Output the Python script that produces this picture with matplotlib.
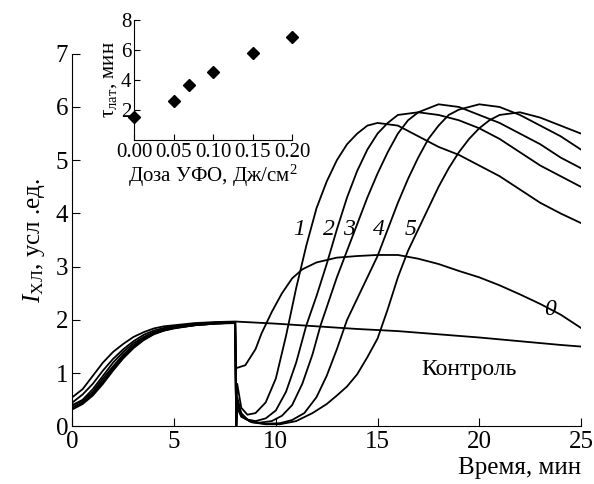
import numpy as np
import matplotlib
matplotlib.use("Agg")
import matplotlib.pyplot as plt

plt.rcParams['font.family'] = ['Liberation Serif', 'DejaVu Serif']
plt.rcParams['mathtext.fontset'] = 'custom'
plt.rcParams['mathtext.rm'] = 'Liberation Serif'
plt.rcParams['mathtext.it'] = 'Liberation Serif:italic'

# начальный участок (0-8 мин), общий для всех кривых
t_early = [0, 0.5, 1, 1.5, 2, 2.5, 3, 3.5, 4, 4.5, 5, 6, 7, 8]
early_control = [0.55, 0.7, 0.95, 1.2, 1.4, 1.55, 1.68, 1.77, 1.84, 1.88, 1.9, 1.94, 1.96, 1.97]
early_0 = [0.45, 0.6, 0.8, 1.05, 1.27, 1.45, 1.6, 1.72, 1.8, 1.85, 1.88, 1.92, 1.95, 1.96]
early_1 = [0.4, 0.5, 0.7, 0.95, 1.2, 1.4, 1.56, 1.68, 1.77, 1.83, 1.87, 1.92, 1.94, 1.95]
early_2 = [0.35, 0.45, 0.62, 0.85, 1.1, 1.33, 1.5, 1.64, 1.74, 1.8, 1.85, 1.9, 1.93, 1.95]
early_3 = [0.4, 0.48, 0.65, 0.9, 1.13, 1.35, 1.52, 1.66, 1.76, 1.82, 1.86, 1.91, 1.94, 1.95]
early_4 = [0.32, 0.42, 0.58, 0.8, 1.05, 1.28, 1.47, 1.62, 1.73, 1.8, 1.84, 1.9, 1.93, 1.94]
early_5 = [0.36, 0.44, 0.6, 0.83, 1.07, 1.3, 1.49, 1.63, 1.74, 1.81, 1.85, 1.9, 1.93, 1.95]

# после добавления (8-25 мин)
t_control = [10, 12, 14, 16, 18, 20, 22, 24, 25]
y_control = [1.93, 1.88, 1.83, 1.79, 1.73, 1.67, 1.6, 1.53, 1.5]

t_0 = [8.05, 8.1, 8.5, 9.0, 9.3, 9.8, 10.3, 10.8, 11.3, 12, 13, 14, 15, 16, 17, 18, 19, 20, 21, 22, 23, 24, 25]
y_0 = [1.1, 1.1, 1.15, 1.45, 1.75, 2.15, 2.5, 2.78, 2.95, 3.08, 3.17, 3.2, 3.22, 3.22, 3.15, 3.05, 2.92, 2.8, 2.65, 2.48, 2.3, 2.1, 1.85]

t_1 = [8.05, 8.1, 8.3, 8.6, 9.0, 9.5, 10.0, 10.5, 11.0, 11.5, 12.0, 12.5, 13.0, 13.5, 14.0, 14.5, 15, 16, 17, 18, 19, 20, 21, 22, 23, 24, 25]
y_1 = [0.0, 0.8, 0.35, 0.22, 0.25, 0.45, 0.9, 1.7, 2.6, 3.4, 4.1, 4.6, 5.0, 5.3, 5.5, 5.65, 5.7, 5.65, 5.45, 5.25, 5.1, 4.9, 4.7, 4.45, 4.2, 4.0, 3.82]

t_2 = [8.05, 8.1, 8.3, 8.6, 9.0, 9.5, 10, 10.5, 11, 11.5, 12, 12.5, 13, 13.5, 14, 14.5, 15, 15.5, 16, 17, 18, 19, 20, 21, 22, 23, 24, 25]
y_2 = [0.0, 0.55, 0.25, 0.13, 0.1, 0.15, 0.3, 0.65, 1.2, 1.9, 2.45, 3.05, 3.7, 4.3, 4.8, 5.2, 5.5, 5.7, 5.85, 5.9, 5.85, 5.75, 5.6, 5.4, 5.15, 4.9, 4.7, 4.5]

t_3 = [8.05, 8.1, 8.3, 8.7, 9.2, 9.8, 10.3, 10.8, 11.3, 11.8, 12.2, 12.6, 13.0, 13.5, 14, 14.5, 15, 15.5, 16, 16.5, 17, 18, 19, 20, 21, 22, 23, 24, 25]
y_3 = [0.0, 0.45, 0.22, 0.1, 0.07, 0.1, 0.2, 0.4, 0.8, 1.35, 1.9, 2.35, 2.8, 3.3, 3.8, 4.3, 4.75, 5.15, 5.5, 5.75, 5.9, 6.05, 6.0, 5.85, 5.7, 5.5, 5.3, 5.05, 4.85]

t_4 = [8.05, 8.1, 8.3, 8.8, 9.5, 10.2, 10.8, 11.4, 12, 12.5, 13, 13.5, 14, 14.5, 15, 15.5, 16, 16.5, 17, 17.5, 18, 18.5, 19, 20, 21, 22, 23, 24, 25]
y_4 = [0.0, 0.4, 0.2, 0.08, 0.05, 0.06, 0.12, 0.25, 0.55, 0.95, 1.45, 2.0, 2.4, 2.8, 3.2, 3.7, 4.2, 4.65, 5.05, 5.4, 5.65, 5.85, 5.95, 6.05, 6.0, 5.85, 5.65, 5.45, 5.2]

t_5 = [8.05, 8.1, 8.3, 8.8, 9.5, 10.2, 11, 11.8, 12.5, 13, 13.5, 14, 14.5, 15, 15.5, 16, 16.5, 17, 17.5, 18, 18.5, 19, 19.5, 20, 20.5, 21, 22, 23, 24, 25]
y_5 = [0.0, 0.35, 0.18, 0.08, 0.04, 0.04, 0.1, 0.25, 0.42, 0.58, 0.75, 0.98, 1.3, 1.65, 2.2, 2.8, 3.3, 3.7, 4.1, 4.5, 4.85, 5.15, 5.4, 5.6, 5.75, 5.85, 5.9, 5.8, 5.65, 5.5]

# вставка: латентный период от дозы УФО
dose = [0.0, 0.05, 0.07, 0.10, 0.15, 0.20]
tau_lat = [1.5, 2.6, 3.65, 4.5, 5.8, 6.85]

curve_labels = ['1', '2', '3', '4', '5']
label_t = [11.15, 12.6, 13.6, 15.05, 16.6]
label_y = 3.69

fig = plt.figure(figsize=(5.94, 4.84), dpi=100)
ax = fig.add_axes([0.122, 0.119, 0.856, 0.770])

ax.plot(t_early + t_control, early_control + y_control, color='black', lw=1.3)
ax.plot(t_early + t_0, early_0 + y_0, color='black', lw=1.3)
for te, ye, tl, yl in [(t_early, early_1, t_1, y_1), (t_early, early_2, t_2, y_2),
                       (t_early, early_3, t_3, y_3), (t_early, early_4, t_4, y_4),
                       (t_early, early_5, t_5, y_5)]:
    ax.plot(te + tl, ye + yl, color='black', lw=1.3)

ax.set_xlim(0, 25)
ax.set_ylim(0, 7)
ax.set_xticks([0, 5, 10, 15, 20, 25])
ax.set_yticks(range(8))
for s in ['top', 'right']:
    ax.spines[s].set_visible(False)
ax.tick_params(direction='in', length=6, labelsize=18, pad=3)
ax.set_xlabel('Время, мин', fontsize=18, loc='right', labelpad=3)
ax.set_ylabel(r'$I_{\mathrm{ХЛ}}$, усл .ед.', fontsize=18, labelpad=6)

for lab, tx in zip(curve_labels, label_t):
    ax.text(tx, label_y, lab, fontsize=17, style='italic', ha='center', va='center')
ax.text(23.5, 2.2, '0', fontsize=17, style='italic', ha='center', va='center')
ax.text(19.5, 1.06, 'Контроль', fontsize=17, ha='center', va='center')

ins = fig.add_axes([0.2256, 0.711, 0.266, 0.248])
ins.plot(dose, tau_lat, 'D', color='black', ms=6, clip_on=False)
ins.set_xlim(0, 0.2)
ins.set_ylim(0, 8)
ins.set_xticks([0.0, 0.05, 0.10, 0.15, 0.20])
ins.set_xticklabels(['0.00', '0.05', '0.10', '0.15', '0.20'])
ins.set_yticks([2, 4, 6, 8])
for s in ['top', 'right']:
    ins.spines[s].set_visible(False)
ins.patch.set_alpha(0)
ins.tick_params(direction='in', length=4, labelsize=15, pad=2)
ins.set_xlabel('Доза УФО, Дж/см$^2$', fontsize=15, labelpad=1)
ins.set_ylabel(r'τ$_{\mathrm{лат}}$, мин', fontsize=15, labelpad=1)

fig.savefig('out.png', dpi=100)
